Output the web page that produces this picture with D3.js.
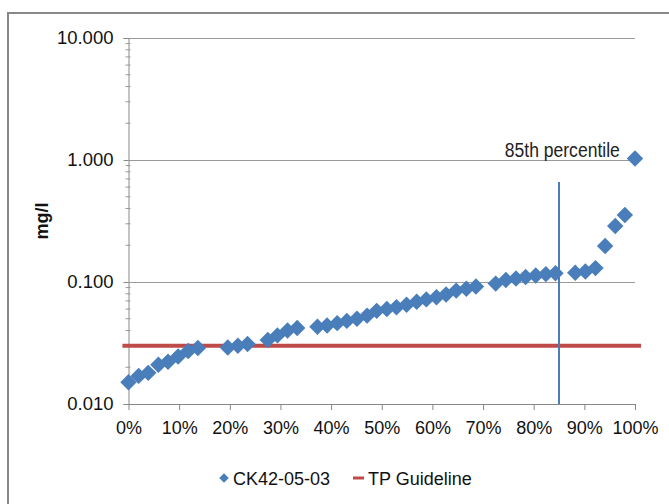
<!DOCTYPE html>
<html>
<head>
<meta charset="utf-8">
<script src="https://cdn.jsdelivr.net/npm/d3@7"></script>
<style>
  body { margin: 0; background: #fff; }
  text { font-family: "Liberation Sans", Arial, sans-serif; }
</style>
</head>
<body>
<div id="chart"></div>
<script>
// Percentile rank of each sample (x) and its TP concentration in mg/l (y)
const percentiles = [
    0.000, 0.020, 0.039, 0.059, 0.078, 0.098, 0.118, 0.137,
    0.196, 0.216, 0.235,
    0.275, 0.294, 0.314, 0.333,
    0.373, 0.392, 0.412, 0.431, 0.451, 0.471, 0.490, 0.510, 0.529,
    0.549, 0.569, 0.588, 0.608, 0.627, 0.647, 0.667, 0.686,
    0.725, 0.745, 0.765, 0.784, 0.804, 0.824, 0.843,
    0.882, 0.902, 0.922, 0.941, 0.961, 0.980, 1.000
];
const concentrations = [
    0.0151, 0.0170, 0.0180, 0.0210, 0.0222, 0.0245, 0.0272, 0.0288,
    0.029, 0.030, 0.031,
    0.0335, 0.0365, 0.040, 0.042,
    0.043, 0.044, 0.046, 0.048, 0.050, 0.053, 0.058, 0.060, 0.062,
    0.065, 0.069, 0.072, 0.075, 0.079, 0.085, 0.088, 0.092,
    0.097, 0.104, 0.107, 0.110, 0.113, 0.116, 0.118,
    0.119, 0.122, 0.130, 0.197, 0.288, 0.354, 1.03
];

// TP guideline (horizontal) and 85th percentile marker (vertical)
const guidelineX = [-0.012, 1.012];
const guidelineValue = 0.03;
const percentileX = 0.85;
const percentileLineY = [0.01, 0.66];
const percentileLabel = "85th percentile";

// Axis ticks
const xTicks = [0, 0.1, 0.2, 0.3, 0.4, 0.5, 0.6, 0.7, 0.8, 0.9, 1.0];
const yTicks = [0.01, 0.1, 1, 10];
const yTitle = "mg/l";
const seriesNames = ["CK42-05-03", "TP Guideline"];

const points = percentiles.map((p, i) => ({ p: p, v: concentrations[i] }));

const blue = "#4a7ebb";
const red = "#be4b48";
const gridColor = "#9a9a9a";

const svg = d3.select("#chart")
    .append("svg")
    .attr("width", 669)
    .attr("height", 504);

// Outer chart border (runs off the right and bottom of the picture)
svg.append("rect")
    .attr("x", 8)
    .attr("y", 13)
    .attr("width", 700)
    .attr("height", 600)
    .attr("fill", "none")
    .attr("stroke", "#878787")
    .attr("stroke-width", 2);

// Scales
const x = d3.scaleLinear()
    .domain([0, 1])
    .range([128.5, 635]);

const y = d3.scaleLog()
    .domain([0.01, 10])
    .range([404, 38]);

// Horizontal gridlines
yTicks.slice(1).forEach(t => {
    svg.append("line")
        .attr("x1", x(0))
        .attr("x2", x(1))
        .attr("y1", Math.round(y(t)) + 0.5)
        .attr("y2", Math.round(y(t)) + 0.5)
        .attr("stroke", gridColor)
        .attr("stroke-width", 1.2);
});

// Y axis with log minor ticks
const minorTicks = y.ticks().filter(t => yTicks.indexOf(t) < 0);
const yAxis = svg.append("g")
    .attr("transform", "translate(" + x(0) + ",0)")
    .call(d3.axisLeft(y)
        .tickValues(yTicks)
        .tickFormat(d3.format(".3f"))
        .tickSize(5)
        .tickPadding(10));
yAxis.selectAll(".tick text")
    .style("font-size", "18.5px")
    .attr("fill", "#111");
yAxis.selectAll("line, path").attr("stroke", "#888");

svg.append("g")
    .selectAll("line")
    .data(minorTicks)
    .join("line")
    .attr("x1", x(0) - 3)
    .attr("x2", x(0) + 2)
    .attr("y1", d => y(d))
    .attr("y2", d => y(d))
    .attr("stroke", "#999");

// X axis
const xAxis = svg.append("g")
    .attr("transform", "translate(0," + y(0.01) + ")")
    .call(d3.axisBottom(x)
        .tickValues(xTicks)
        .tickFormat(d3.format(".0%"))
        .tickSize(6)
        .tickSizeOuter(0)
        .tickPadding(11));
xAxis.selectAll(".tick text")
    .style("font-size", "18px")
    .attr("fill", "#111");
xAxis.selectAll("line, path").attr("stroke", "#888");

// Y axis title
svg.append("text")
    .attr("transform", "translate(48," + ((y(10) + y(0.01)) / 2) + ") rotate(-90)")
    .attr("text-anchor", "middle")
    .style("font-size", "18px")
    .style("font-weight", "bold")
    .attr("fill", "#111")
    .text(yTitle);

// TP guideline
svg.append("line")
    .attr("x1", x(guidelineX[0]))
    .attr("x2", x(guidelineX[1]))
    .attr("y1", y(guidelineValue))
    .attr("y2", y(guidelineValue))
    .attr("stroke", red)
    .attr("stroke-width", 4);

// 85th percentile marker
svg.append("line")
    .attr("x1", x(percentileX))
    .attr("x2", x(percentileX))
    .attr("y1", y(percentileLineY[0]))
    .attr("y2", y(percentileLineY[1]))
    .attr("stroke", blue)
    .attr("stroke-width", 2);

svg.append("text")
    .attr("x", x(0.97))
    .attr("y", y(1) - 3)
    .attr("text-anchor", "end")
    .attr("textLength", 115)
    .attr("lengthAdjust", "spacingAndGlyphs")
    .style("font-family", "'Liberation Sans Narrow', 'Liberation Sans', sans-serif")
    .style("font-size", "20px")
    .attr("fill", "#222")
    .text(percentileLabel);

// Sample points as diamonds
const diamond = d3.symbol().type(d3.symbolSquare).size(135);
svg.append("g")
    .selectAll("path")
    .data(points)
    .join("path")
    .attr("d", diamond)
    .attr("transform", d => "translate(" + x(d.p) + "," + y(d.v) + ") rotate(45)")
    .attr("fill", blue);

// Legend
const legend = svg.append("g").attr("transform", "translate(0,478)");
legend.append("path")
    .attr("d", d3.symbol().type(d3.symbolSquare).size(45))
    .attr("transform", "translate(224,0) rotate(45)")
    .attr("fill", blue);
legend.append("text")
    .attr("x", 233)
    .attr("y", 6.5)
    .style("font-size", "18px")
    .attr("fill", "#111")
    .text(seriesNames[0]);
legend.append("line")
    .attr("x1", 353)
    .attr("x2", 364)
    .attr("y1", 0)
    .attr("y2", 0)
    .attr("stroke", red)
    .attr("stroke-width", 3);
legend.append("text")
    .attr("x", 368)
    .attr("y", 6.5)
    .style("font-size", "18px")
    .attr("fill", "#111")
    .text(seriesNames[1]);
</script>
</body>
</html>
